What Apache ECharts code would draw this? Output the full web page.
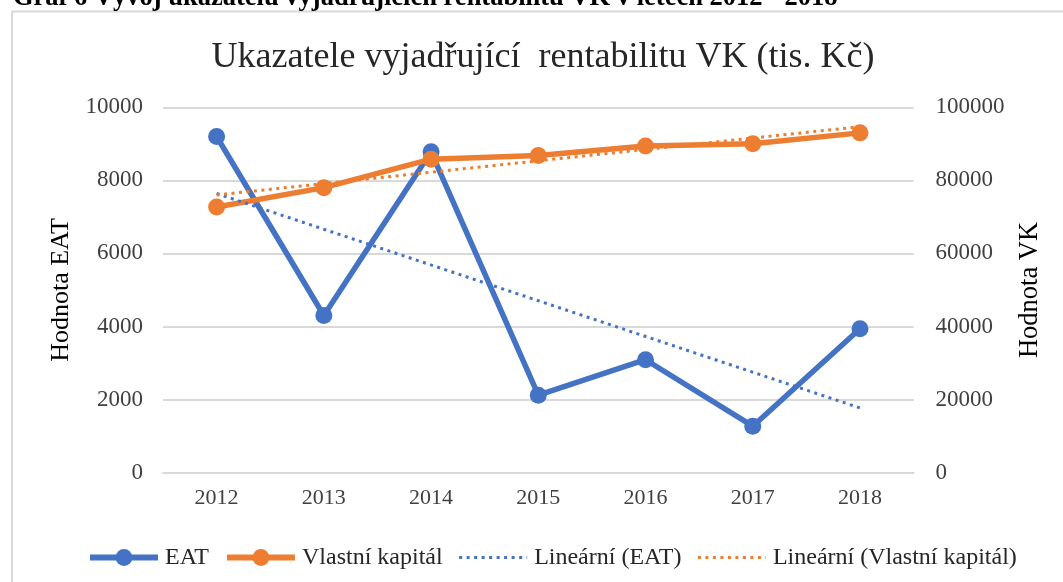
<!DOCTYPE html>
<html>
<head>
<meta charset="utf-8">
<script src="https://cdn.jsdelivr.net/npm/echarts@6/dist/echarts.min.js"></script>
<style>
  html, body { margin: 0; padding: 0; background: #fff; }
  #chart { width: 1063px; height: 582px; }
</style>
</head>
<body>
<div id="chart"></div>
<script>
// data
var years = ['2012', '2013', '2014', '2015', '2016', '2017', '2018'];
var eat = [9200, 4300, 8780, 2120, 3090, 1270, 3940];
var vk = [72700, 78000, 85800, 86800, 89400, 90000, 93000];
// trend lines: value at 2012 and at 2018
var trendEat = [7640, null, null, null, null, null, 1770];
var trendVk = [76000, null, null, null, null, null, 94700];
var eatTicks = [0, 10000, 2000];
var vkTicks = [0, 100000, 20000];

var font = '"Liberation Serif", "Times New Roman", serif';
var blue = '#4472C4';
var orange = '#ED7D31';

(function () {
    var myChart = echarts.init(document.getElementById('chart'));
    var plain = function (v) { return String(v); }; //不要千位分隔符
    var option = {
        animation: false,
        backgroundColor: '#fff',
        textStyle: { fontFamily: font },
        graphic: [
            {
                type: 'rect',
                shape: { x: 12, y: 11.5, width: 1100, height: 700 },
                style: { fill: 'none', stroke: '#d9d9d9', lineWidth: 2 },
                silent: true
            },
            {
                //被截掉的图表标题
                type: 'text',
                x: 13, y: 12,
                style: {
                    text: 'Graf 6 Vývoj ukazatelů vyjadřujících rentabilitu VK v letech 2012 - 2018',
                    font: 'bold 26.5px ' + font,
                    fill: '#000',
                    verticalAlign: 'bottom'
                }
            },
            {
                type: 'text',
                x: 543, y: 58,
                style: {
                    text: 'Ukazatele vyjadřující  rentabilitu VK (tis. Kč)',
                    font: '36px ' + font,
                    fill: '#262626',
                    align: 'center',
                    verticalAlign: 'middle'
                }
            }
        ],
        legend: {
            left: 82,
            top: 540.5,
            itemWidth: 68,
            itemHeight: 21,
            itemGap: 15,
            textStyle: { fontFamily: font, fontSize: 24, color: '#262626', padding: [0, 0, 0, 2] },
            data: [
                { name: 'EAT', lineStyle: { width: 6 } },
                { name: 'Vlastní kapitál', lineStyle: { width: 6 } },
                { name: 'Lineární (EAT)', lineStyle: { width: 3 }, itemStyle: { opacity: 0 } },
                { name: 'Lineární (Vlastní kapitál)', lineStyle: { width: 3 }, itemStyle: { opacity: 0 } }
            ]
        },
        grid: {
            left: 163,
            right: 149.4,
            top: 107.3,
            bottom: 109.4
        },
        xAxis: {
            type: 'category',
            data: years,
            boundaryGap: true,
            axisTick: { show: false },
            axisLine: { lineStyle: { color: '#d9d9d9', width: 2 } },
            axisLabel: { color: '#404040', fontSize: 22, fontFamily: font, margin: 15 }
        },
        yAxis: [
            {
                type: 'value',
                min: eatTicks[0],
                max: eatTicks[1],
                interval: eatTicks[2],
                name: 'Hodnota EAT',
                nameLocation: 'middle',
                nameRotate: 90,
                nameGap: 101,
                nameTextStyle: { color: '#000', fontSize: 26, fontFamily: font, verticalAlign: 'middle' },
                axisLabel: { color: '#404040', fontSize: 23, fontFamily: font, margin: 20, formatter: plain },
                axisLine: { show: false },
                axisTick: { show: false },
                splitLine: { lineStyle: { color: '#d9d9d9', width: 2 } }
            },
            {
                type: 'value',
                min: vkTicks[0],
                max: vkTicks[1],
                interval: vkTicks[2],
                name: 'Hodnota VK',
                nameLocation: 'middle',
                nameRotate: 90,
                nameGap: 116,
                nameTextStyle: { color: '#000', fontSize: 26.5, fontFamily: font, verticalAlign: 'middle' },
                axisLabel: { color: '#404040', fontSize: 23, fontFamily: font, margin: 22, formatter: plain },
                axisLine: { show: false },
                axisTick: { show: false },
                splitLine: { show: false }
            }
        ],
        series: [
            {
                name: 'EAT',
                type: 'line',
                yAxisIndex: 0,
                data: eat,
                symbol: 'circle',
                symbolSize: 17,
                color: blue,
                lineStyle: { color: blue, width: 5.5 },
                itemStyle: { color: blue },
                z: 2
            },
            {
                name: 'Vlastní kapitál',
                type: 'line',
                yAxisIndex: 1,
                data: vk,
                symbol: 'circle',
                symbolSize: 17,
                color: orange,
                lineStyle: { color: orange, width: 5.5 },
                itemStyle: { color: orange },
                z: 3
            },
            {
                name: 'Lineární (EAT)',
                type: 'line',
                yAxisIndex: 0,
                data: trendEat,
                connectNulls: true,
                symbol: 'none',
                color: blue,
                lineStyle: { color: blue, width: 3, type: [3, 4.5] },
                z: 4
            },
            {
                name: 'Lineární (Vlastní kapitál)',
                type: 'line',
                yAxisIndex: 1,
                data: trendVk,
                connectNulls: true,
                symbol: 'none',
                color: orange,
                lineStyle: { color: orange, width: 3, type: [3, 4.5] },
                z: 4
            }
        ]
    };
    myChart.setOption(option);
})();
</script>
</body>
</html>
